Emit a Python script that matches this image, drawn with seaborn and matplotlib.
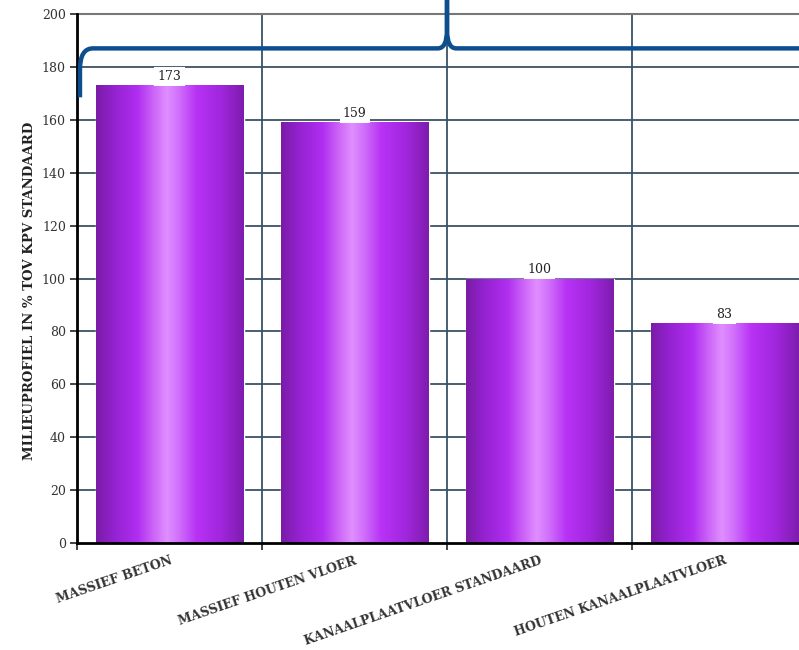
import numpy as np
import pandas as pd
import matplotlib
matplotlib.use("Agg")
import matplotlib.pyplot as plt
from matplotlib.path import Path
from matplotlib.patches import PathPatch
from matplotlib.colors import LinearSegmentedColormap
import seaborn as sns

categories = ["MASSIEF BETON", "MASSIEF HOUTEN VLOER",
              "KANAALPLAATVLOER STANDAARD", "HOUTEN KANAALPLAATVLOER"]
values = [173, 159, 100, 83]
y_ticks = [0, 20, 40, 60, 80, 100, 120, 140, 160, 180, 200]
y_label = "MILIEUPROFIEL IN % TOV KPV STANDAARD"

df = pd.DataFrame({"cat": categories, "val": values})

sns.set_theme(style="white")
plt.rcParams["font.family"] = ["DejaVu Serif", "Liberation Serif"]

fig = plt.figure(figsize=(7.99, 6.5), dpi=100)
ax = fig.add_axes([77 / 799, (650 - 543) / 650, 740 / 799, 529 / 650])

sns.barplot(data=df, x="cat", y="val", ax=ax, color="#b030f0", width=0.8,
            saturation=1, zorder=3)

cmap = LinearSegmentedColormap.from_list("purp", [
    (0.00, "#7a1ca6"), (0.12, "#9422d0"), (0.28, "#b02ef0"),
    (0.40, "#cf6af8"), (0.48, "#e08eff"), (0.56, "#d070fb"),
    (0.68, "#b832f5"), (0.85, "#a026dc"), (1.00, "#7e1cae")])
grad = np.linspace(0, 1, 256).reshape(1, -1)
for p in list(ax.patches):
    x0, y0 = p.get_x(), p.get_y()
    w, h = p.get_width(), p.get_height()
    im = ax.imshow(grad, extent=[x0, x0 + w, y0, y0 + h], aspect="auto",
                   cmap=cmap, zorder=3.5, interpolation="bilinear")
    im.set_clip_path(p)

ax.set_xlim(-0.5, len(categories) - 0.5)
ax.set_ylim(0, 200)
ax.set_yticks(y_ticks)
ax.set_yticklabels([str(t) for t in y_ticks], fontsize=9, color="#333333")

ax.bar_label(ax.containers[0], labels=[str(v) for v in values], padding=2,
             fontsize=9, color="#222222", zorder=6,
             bbox=dict(boxstyle="square,pad=0.25", fc="white", ec="none"))

# grid
ax.set_xticks(np.arange(len(categories)))
ax.set_xticks(np.arange(len(categories)) - 0.5, minor=True)
ax.set_xticklabels(categories, rotation=19, ha="right", rotation_mode="anchor",
                   fontsize=9, fontweight="bold", color="#333333")
ax.tick_params(axis="x", which="major", length=0, pad=8)
ax.tick_params(axis="x", which="minor", length=5, width=1.2, color="#222222",
               direction="out", bottom=True)
ax.tick_params(axis="y", length=5, width=1.2, color="#222222", left=True,
               direction="out", pad=3)
ax.grid(False)
for t in y_ticks[1:-1]:
    ax.axhline(t, color="#3c5268", lw=1.3, zorder=1)
for b in np.arange(1, len(categories)) - 0.5:
    ax.axvline(b, color="#3c5268", lw=1.3, zorder=1)

for s in ["left", "bottom"]:
    ax.spines[s].set_color("black")
    ax.spines[s].set_linewidth(2)
    ax.spines[s].set_zorder(5)
ax.spines["top"].set_color("#777777")
ax.spines["top"].set_linewidth(1.5)
ax.spines["right"].set_visible(False)

ax.set_xlabel("")
ax.set_ylabel(y_label, fontsize=9.5, fontweight="bold", color="#222222")
ax.yaxis.set_label_coords(-0.056, 0.476)

# curly brace annotation
n = len(categories)
xl, xr, xm = -0.484, n - 0.5 - 0.016, (n - 1) / 2
yb, yh, ytop = 168.5, 187, 207
r = 0.07
left = Path([(xl, yb), (xl, yh - 8), (xl, yh), (xl + r, yh),
             (xm - 0.05, yh), (xm, yh), (xm, yh + 7), (xm, ytop)],
            [Path.MOVETO, Path.LINETO, Path.CURVE3, Path.CURVE3,
             Path.LINETO, Path.CURVE3, Path.CURVE3, Path.LINETO])
right = Path([(xm, ytop), (xm, yh + 7), (xm, yh), (xm + 0.05, yh),
              (xr - r, yh), (xr, yh), (xr, yh - 8), (xr, yb)],
             [Path.MOVETO, Path.LINETO, Path.CURVE3, Path.CURVE3,
              Path.LINETO, Path.CURVE3, Path.CURVE3, Path.LINETO])
for pth in (left, right):
    pp = PathPatch(pth, fill=False, ec="#0d4f8e", lw=3.2, zorder=7,
                   clip_on=False, capstyle="butt", joinstyle="round")
    ax.add_patch(pp)

fig.savefig("out.png", dpi=100)
